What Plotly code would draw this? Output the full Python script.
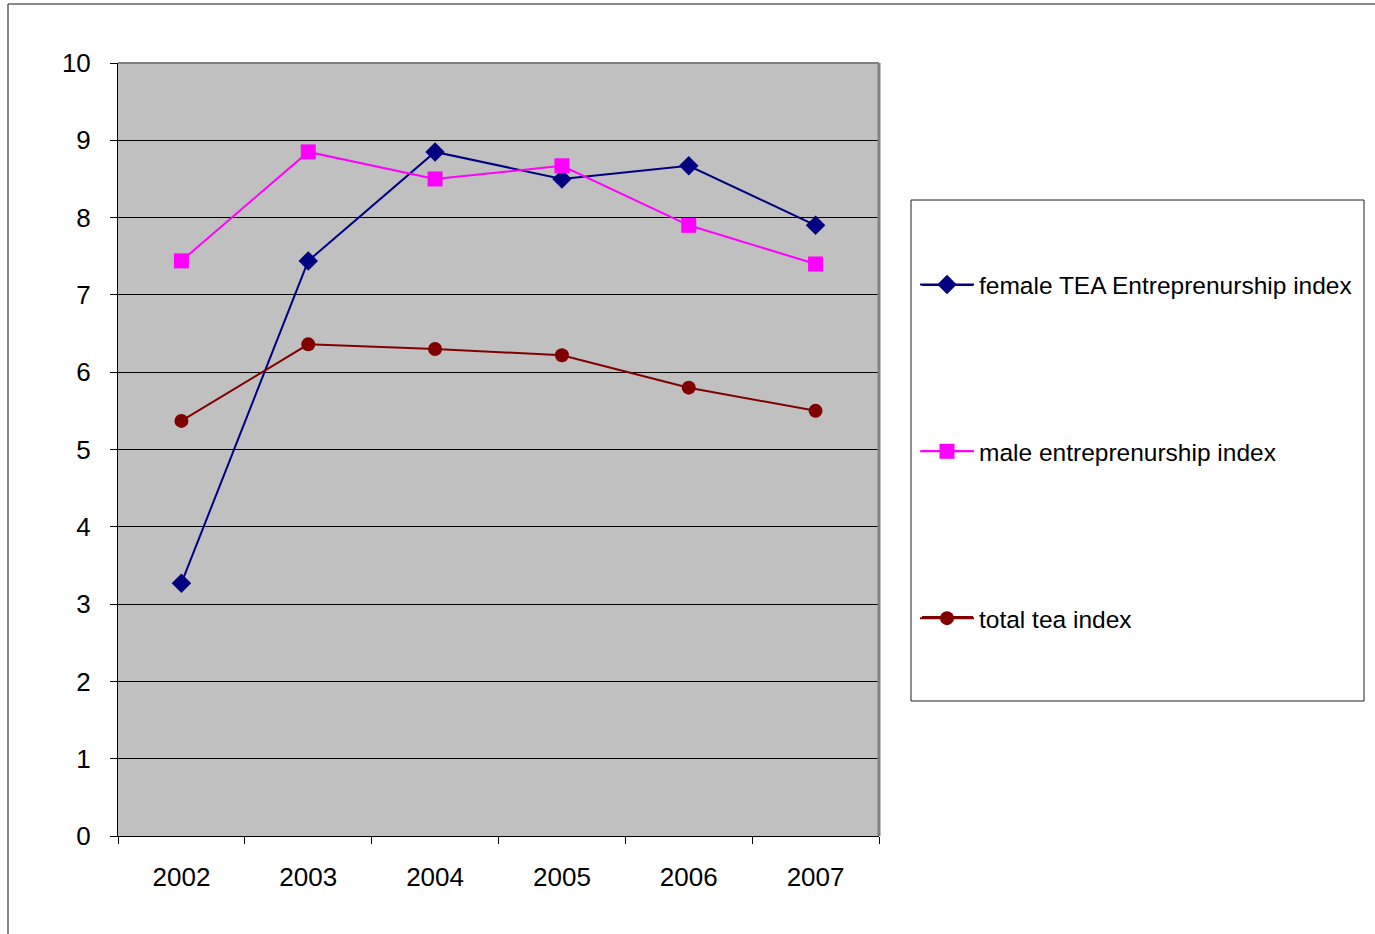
import plotly.graph_objects as go

years = ["2002", "2003", "2004", "2005", "2006", "2007"]
female_tea = [3.27, 7.44, 8.85, 8.50, 8.67, 7.90]
male_index = [7.44, 8.85, 8.50, 8.67, 7.90, 7.40]
total_tea = [5.37, 6.36, 6.30, 6.22, 5.80, 5.50]

series_names = [
    "female TEA Entreprenurship index",
    "male entreprenurship index",
    "total tea index",
]
series_colors = ["#000080", "#FF00FF", "#800000"]

FONT = "Liberation Sans, Arial, sans-serif"

fig = go.Figure()
fig.add_trace(go.Scatter(
    x=years, y=female_tea, name=series_names[0], legendgroup="a",
    mode="lines+markers",
    line=dict(color=series_colors[0], width=2),
    marker=dict(symbol="diamond", size=15, color=series_colors[0]),
))
fig.add_trace(go.Scatter(
    x=years, y=male_index, name=series_names[1], legendgroup="b",
    mode="lines+markers",
    line=dict(color=series_colors[1], width=2),
    marker=dict(symbol="square", size=15, color=series_colors[1]),
))
fig.add_trace(go.Scatter(
    x=years, y=total_tea, name=series_names[2], legendgroup="c",
    mode="lines+markers",
    line=dict(color=series_colors[2], width=2),
    marker=dict(symbol="circle", size=14, color=series_colors[2]),
))

W, H = 1375, 934
L, R, T, B = 118, 879, 63, 836


def px(xp):
    return (xp - L) / (R - L)


def py(yp):
    return (B - yp) / (B - T)


shapes = [
    # top and right edges of the plot area
    dict(type="line", xref="paper", yref="paper", x0=0, x1=1, y0=1, y1=1,
         line=dict(color="#808080", width=2), layer="above"),
    dict(type="line", xref="paper", yref="paper", x0=1, x1=1, y0=0, y1=1,
         line=dict(color="#808080", width=3), layer="above"),
    # legend frame
    dict(type="rect", xref="paper", yref="paper",
         x0=px(911), x1=px(1364), y0=py(701), y1=py(200),
         line=dict(color="#202020", width=1), fillcolor="rgba(0,0,0,0)"),
    # outer chart frame
    dict(type="line", xref="paper", yref="paper",
         x0=px(8), x1=px(8), y0=py(4), y1=py(934),
         line=dict(color="#606060", width=1.5)),
    dict(type="line", xref="paper", yref="paper",
         x0=px(8), x1=px(1375), y0=py(4), y1=py(4),
         line=dict(color="#606060", width=1.5)),
]

# longer legend sample lines behind the legend markers
for yy, col in zip([285, 451, 617], series_colors):
    shapes.append(dict(type="line", xref="paper", yref="paper",
                       x0=px(922), x1=px(973), y0=py(yy), y1=py(yy),
                       line=dict(color=col, width=2), layer="below"))

fig.update_layout(
    width=W, height=H,
    margin=dict(l=L, r=W - R, t=T, b=H - B),
    paper_bgcolor="white",
    plot_bgcolor="#C0C0C0",
    font=dict(family=FONT, size=24.5, color="black"),
    showlegend=True,
    legend=dict(
        x=px(915), y=py(262), xanchor="left", yanchor="top",
        bgcolor="rgba(0,0,0,0)", borderwidth=0,
        font=dict(family=FONT, size=24.5, color="black"),
        tracegroupgap=132,
        itemwidth=54,
    ),
    shapes=shapes,
)

fig.update_xaxes(
    type="category",
    range=[-0.5, 5.5],
    tickson="boundaries",
    ticks="outside", ticklen=7, tickwidth=1, tickcolor="black",
    showline=True, linecolor="black", linewidth=1,
    showgrid=False, zeroline=False,
    ticklabelstandoff=18,
    tickfont=dict(size=26),
)
fig.update_yaxes(
    range=[0, 10],
    tickmode="linear", tick0=0, dtick=1,
    ticks="outside", ticklen=7, tickwidth=1, tickcolor="black",
    showline=True, linecolor="black", linewidth=1,
    showgrid=True, gridcolor="black", gridwidth=1,
    zeroline=False,
    ticklabelstandoff=14,
    tickfont=dict(size=26),
)

fig.write_html("out.html")
